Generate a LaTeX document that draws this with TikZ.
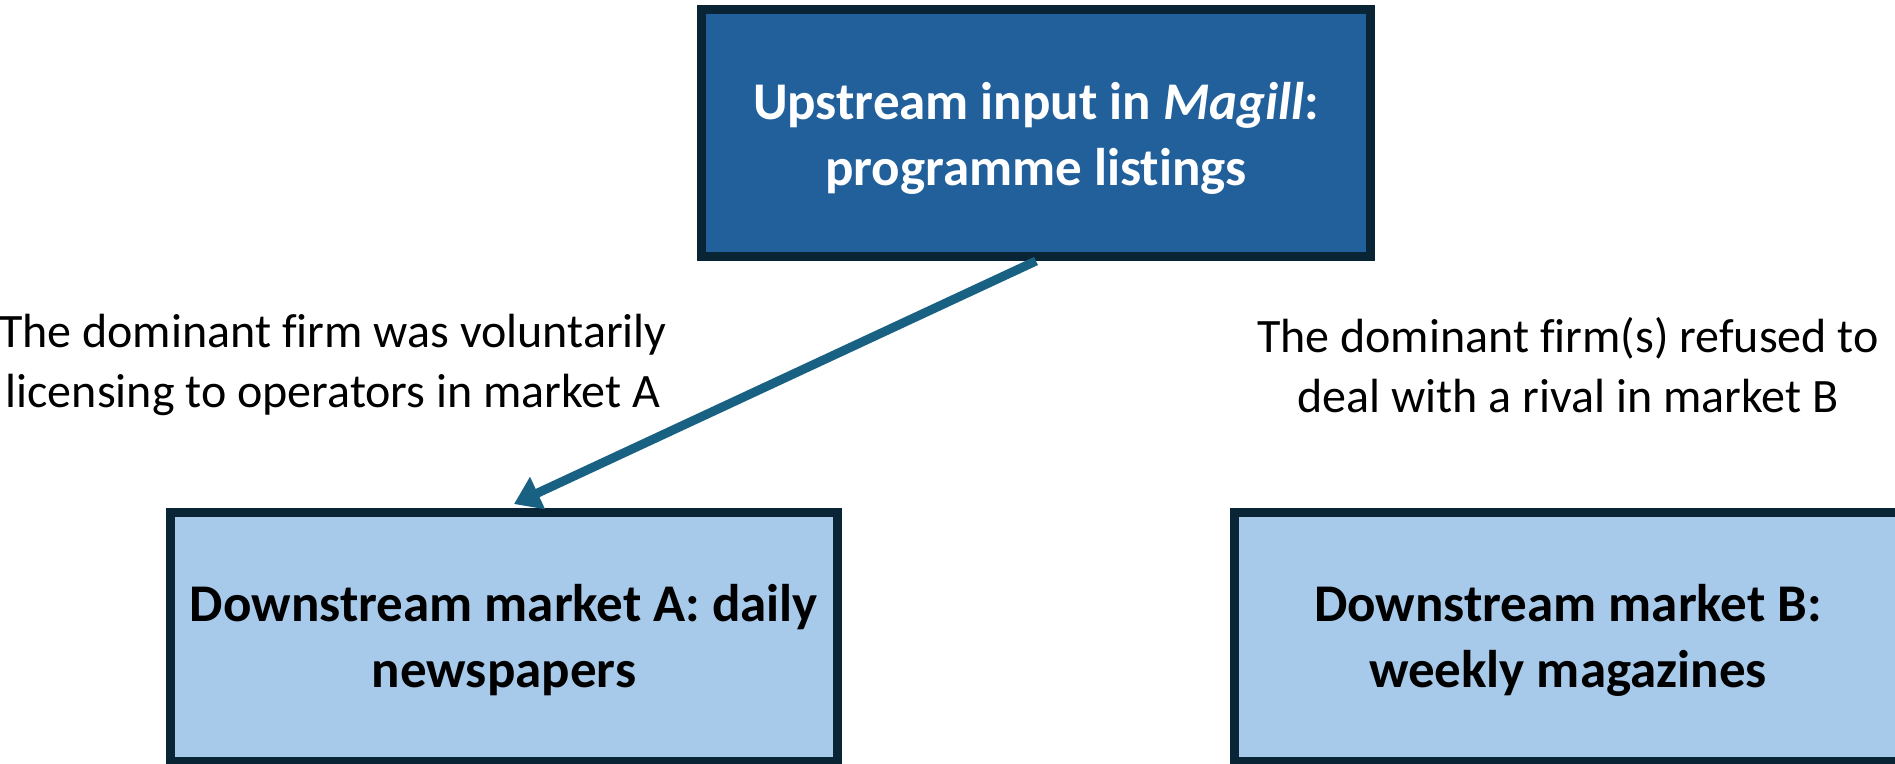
\documentclass[tikz,border=0pt]{standalone}
\usepackage{fontspec}
\setmainfont{Carlito}[Ligatures={NoCommon}]
\usetikzlibrary{arrows.meta}
\definecolor{bordercol}{HTML}{082435}
\definecolor{upfill}{HTML}{22609B}
\definecolor{downfill}{HTML}{A7C9EA}
\definecolor{arrowcol}{HTML}{186183}
\tikzset{
  upbox/.style={draw=bordercol, line width=9pt, fill=upfill, text=white,
    minimum width=669pt, minimum height=247pt, align=center, inner sep=0pt,
    font=\fontsize{53}{66}\selectfont\bfseries},
  downbox/.style={draw=bordercol, line width=9pt, fill=downfill, text=black,
    minimum width=667pt, minimum height=249pt, align=center, inner sep=0pt,
    font=\fontsize{53}{66}\selectfont\bfseries},
  lbl/.style={align=center, inner sep=0pt, text=black,
    font=\fontsize{48}{60}\selectfont},
  flow/.style={draw=arrowcol, line width=9pt,
    -{Triangle[width=34pt,length=26pt]}}
}
\begin{document}
\begin{tikzpicture}[x=1pt,y=-1pt]
\useasboundingbox (0,0) rectangle (1895,763);
\clip (0,0) rectangle (1895,763);
\node[upbox] (up) at (1036,133) {};
\node[text=white, align=center, font=\fontsize{53}{66}\selectfont\bfseries] (upt) at (1036,138) {Upstream input in \textit{Magill}:\\programme listings};
\node[downbox] (mA) at (504,637) {};
\node[align=center, font=\fontsize{53}{66}\selectfont\bfseries] (mAt) at (504,640) {Downstream market A: daily\\newspapers};
\node[downbox] (mB) at (1568,637) {};
\node[align=center, font=\fontsize{53}{66}\selectfont\bfseries] (mBt) at (1568,640) {Downstream market B:\\weekly magazines};
\node[lbl] (lA) at (333,365) {The dominant firm was voluntarily\\licensing to operators in market A};
\node[lbl] (lB) at (1568,365) {The dominant firm(s) refused to\\deal with a rival in market B};
\coordinate (tipA) at ([xshift=10pt,yshift=4pt]mA.north);
\draw[flow] (up.south) -- (tipA);
\end{tikzpicture}
\end{document}
